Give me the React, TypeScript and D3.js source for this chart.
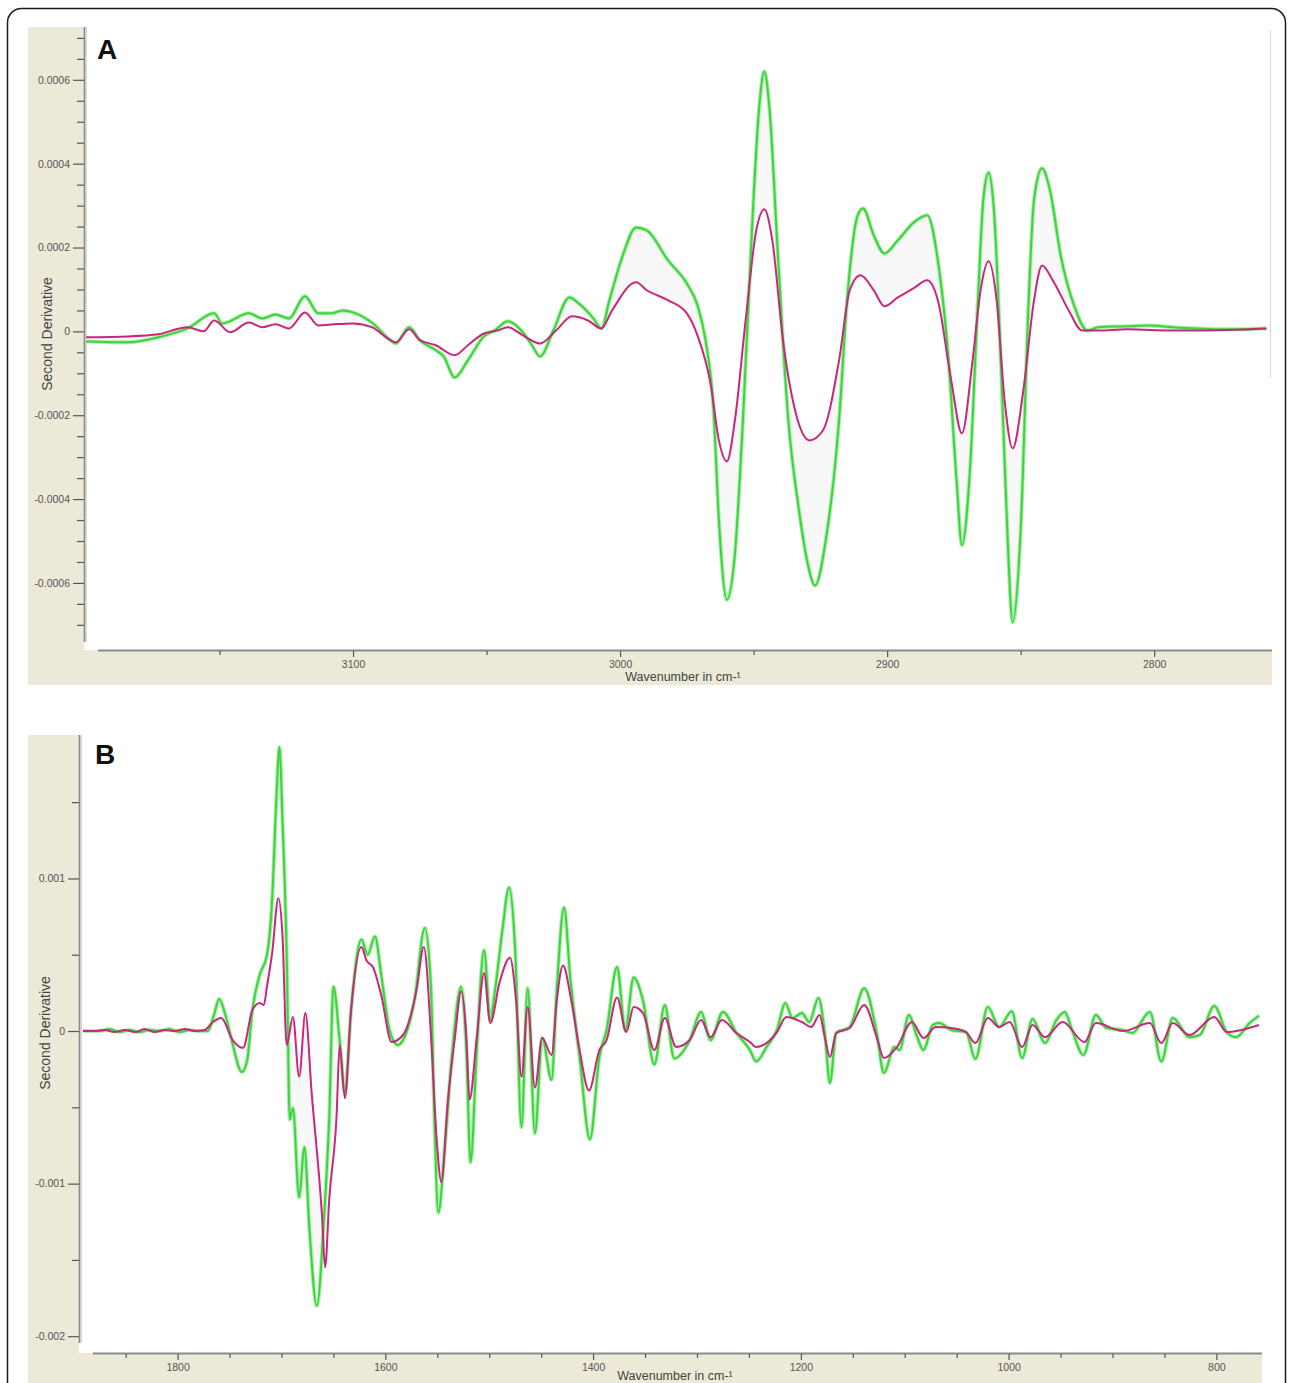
import React, { useEffect, useRef } from 'react';
import * as d3 from 'd3';

type Pt = [number, number]; // [wavenumber, second derivative x 1e-4]

// Panel A, 3200-2757 cm-1
const A_GREEN: Pt[] = [
  [3200, -0.24], [3184, -0.26], [3173, -0.14], [3162, 0.07], [3152, 0.43], [3149, 0.19], [3139, 0.43], [3134, 0.31],
  [3129, 0.4], [3124, 0.31], [3118, 0.84], [3113, 0.43], [3108, 0.43], [3104, 0.5], [3099, 0.43], [3093, 0.21],
  [3086, -0.21], [3084, -0.29], [3079, 0.1], [3075, -0.21], [3069, -0.45], [3066, -0.6], [3062, -1.1], [3057, -0.69],
  [3051, -0.12], [3047, 0.02], [3042, 0.24], [3037, 0.02], [3033, -0.33], [3030, -0.6], [3025, 0.02], [3019, 0.81],
  [3015, 0.64], [3010, 0.31], [3007, 0.07], [3004, 0.74], [2999, 1.81], [2994, 2.48], [2990, 2.41], [2982, 1.69],
  [2975, 1.14], [2971, 0.62], [2968, -0.21], [2965, -1.88], [2963, -4.5], [2960, -6.4], [2957, -5.3], [2954, -2.12],
  [2951, 1.93], [2948, 5.27], [2946, 6.2], [2944, 5.27], [2941, 1.93], [2937, -2.12], [2933, -4.27], [2930, -5.46],
  [2927, -6.06], [2923, -4.99], [2918, -2.12], [2915, 0.74], [2911, 2.77], [2909, 2.93], [2905, 2.29], [2901, 1.86],
  [2896, 2.17], [2890, 2.6], [2885, 2.77], [2881, 1.69], [2877, -0.69], [2874, -3.55], [2872, -5.1], [2869, -3.32],
  [2866, 0.74], [2864, 3.13], [2862, 3.79], [2860, 2.89], [2857, -1.41], [2855, -4.75], [2853, -6.94], [2850, -4.75],
  [2847, 0.74], [2845, 3.13], [2842, 3.89], [2839, 3.36], [2835, 1.81], [2830, 0.62], [2825, 0.02], [2821, 0.1],
  [2810, 0.12], [2802, 0.14], [2793, 0.1], [2784, 0.07], [2769, 0.05], [2758, 0.07],
];

const A_PINK: Pt[] = [
  [3200, -0.14], [3184, -0.12], [3173, -0.07], [3162, 0.1], [3156, 0], [3152, 0.26], [3146, -0.02], [3139, 0.21],
  [3134, 0.1], [3129, 0.17], [3124, 0.07], [3118, 0.45], [3113, 0.14], [3107, 0.17], [3100, 0.19], [3093, 0.1],
  [3086, -0.21], [3084, -0.26], [3079, 0.05], [3075, -0.21], [3069, -0.33], [3062, -0.57], [3057, -0.33], [3051, -0.05],
  [3046, 0.02], [3042, 0.1], [3037, -0.07], [3030, -0.29], [3024, 0.02], [3018, 0.36], [3012, 0.26], [3007, 0.07],
  [3003, 0.5], [2994, 1.17], [2990, 0.98], [2982, 0.74], [2975, 0.43], [2971, -0.1], [2966, -1.29], [2963, -2.6],
  [2960, -3.1], [2957, -2.12], [2953, 0.26], [2949, 2.41], [2946, 2.91], [2943, 2.17], [2939, -0.21], [2934, -2.0],
  [2929, -2.6], [2924, -2.36], [2918, -0.69], [2914, 0.98], [2910, 1.34], [2905, 0.98], [2901, 0.6], [2896, 0.81],
  [2890, 1.03], [2885, 1.22], [2881, 0.74], [2876, -1.17], [2872, -2.43], [2868, -0.69], [2865, 0.98], [2862, 1.67],
  [2859, 0.74], [2856, -1.65], [2853, -2.79], [2849, -1.41], [2845, 0.74], [2842, 1.57], [2838, 1.22], [2832, 0.5],
  [2827, 0.02], [2821, 0.02], [2810, 0.05], [2793, 0.02], [2784, 0.02], [2758, 0.07],
];

// Panel B, 1893-758 cm-1
const B_GREEN: Pt[] = [
  [1891, 0], [1875, 0], [1865, 0.13], [1856, -0.07], [1846, 0.07], [1837, -0.07], [1827, 0.07], [1817, 0],
  [1808, 0.13], [1798, -0.07], [1788, 0.07], [1779, 0], [1771, 0], [1765, 1.05], [1760, 2.1], [1754, 1.05],
  [1748, -0.59], [1738, -2.69], [1733, -1.9], [1728, 1.38], [1721, 3.67], [1714, 4.98], [1709, 8.6], [1705, 15.1],
  [1702, 18.6], [1699, 13.8], [1695, 5.1], [1692, -5.8], [1689, -5.05], [1683, -10.9], [1678, -7.6], [1673, -13.1],
  [1666, -18.0], [1659, -12.2], [1654, -5.6], [1650, 2.9], [1644, -0.6], [1639, -4.0], [1633, 1.38], [1623, 6.0],
  [1617, 5.0], [1610, 6.2], [1604, 3.7], [1596, 0.07], [1588, -0.92], [1582, -0.46], [1572, 2.0], [1562, 6.75],
  [1556, 2.7], [1553, -5.2], [1549, -11.9], [1543, -7.8], [1536, -1.7], [1527, 2.9], [1522, -1.25], [1518, -8.6],
  [1512, -1.25], [1505, 5.3], [1499, 0.72], [1495, 2.36], [1487, 6.8], [1481, 9.4], [1475, 5.3], [1469, -6.3],
  [1463, 2.8], [1456, -6.7], [1449, -0.46], [1440, -3.2], [1435, 2.7], [1428, 8.1], [1422, 3.5], [1413, -1.7],
  [1403, -7.1], [1394, -1.7], [1387, 0.07], [1377, 4.2], [1369, 0.07], [1361, 3.5], [1352, 2.0], [1341, -2.2],
  [1331, 1.7], [1322, -1.8], [1307, -0.6], [1296, 1.25], [1287, -0.6], [1275, 1.25], [1262, -0.13], [1249, -1.25],
  [1243, -2.0], [1233, -1.05], [1223, 0.07], [1215, 1.84], [1208, 0.85], [1199, 1.18], [1192, 0.59], [1183, 2.16],
  [1177, -0.13], [1172, -3.4], [1166, -0.13], [1153, 0.26], [1139, 2.8], [1127, -0.13], [1120, -2.75], [1110, -1.05],
  [1105, -1.25], [1096, 1.05], [1088, -0.4], [1082, -1.25], [1073, 0.4], [1067, 0.52], [1055, 0.07], [1041, -0.07],
  [1032, -1.84], [1020, 1.57], [1009, 0.26], [997, 1.3], [987, -1.77], [977, 0.79], [965, -0.79], [954, 0.72],
  [946, 1.25], [939, 0.07], [928, -1.57], [916, 1.05], [906, 0.2], [890, 0.07], [881, -0.13], [864, 1.25],
  [853, -2.0], [842, 0.85], [826, -0.4], [816, -0.26], [802, 1.64], [790, -0.07], [781, -0.4], [768, 0.52], [759, 1.0],
];

const B_PINK: Pt[] = [
  [1891, 0], [1880, 0], [1870, 0.07], [1861, -0.07], [1851, 0.07], [1841, -0.07], [1832, 0.13], [1822, -0.07],
  [1813, 0.07], [1803, 0], [1793, 0.13], [1784, 0], [1774, 0.07], [1766, 0.59], [1758, 0.85], [1747, -0.59],
  [1737, -1.1], [1728, 1.38], [1721, 1.84], [1717, 1.7], [1714, 2.9], [1709, 5.1], [1703, 8.7], [1699, 6.2],
  [1695, -0.92], [1689, 0.92], [1683, -3.0], [1677, 1.18], [1671, -4.0], [1661, -12.1], [1658, -15.5], [1654, -11.0],
  [1647, -5.6], [1644, -0.92], [1639, -4.4], [1633, 1.38], [1623, 5.5], [1618, 4.6], [1612, 4.2], [1604, 2.36],
  [1594, -0.72], [1583, -0.26], [1570, 2.7], [1563, 5.5], [1556, -0.4], [1551, -6.7], [1546, -9.9], [1540, -4.7],
  [1533, -0.4], [1527, 2.6], [1522, -0.4], [1519, -4.5], [1512, -0.4], [1505, 3.8], [1499, 0.52], [1490, 3.2],
  [1480, 4.8], [1474, 1.84], [1469, -3.0], [1463, 1.57], [1456, -3.7], [1449, -0.46], [1440, -1.57], [1435, 2.0],
  [1429, 4.3], [1421, 2.0], [1413, -1.25], [1404, -3.9], [1394, -1.25], [1387, -0.59], [1377, 2.2], [1368, -0.07],
  [1361, 1.57], [1352, 1.18], [1341, -1.25], [1331, 0.85], [1320, -1.05], [1307, -0.59], [1296, 0.72], [1287, -0.4],
  [1276, 0.72], [1262, -0.13], [1249, -0.72], [1243, -1.05], [1223, -0.07], [1214, 0.92], [1199, 0.59], [1190, 0.26],
  [1182, 1.05], [1177, -0.4], [1172, -1.7], [1166, -0.13], [1153, 0.2], [1139, 1.7], [1127, -0.4], [1120, -1.77],
  [1108, -1.1], [1093, 0.59], [1082, -0.46], [1070, 0.26], [1055, 0.2], [1041, -0.07], [1032, -0.79], [1020, 0.85],
  [1009, 0.26], [999, 0.59], [987, -1.05], [977, 0.4], [965, -0.4], [948, 0.59], [927, -0.72], [916, 0.52],
  [890, 0], [864, 0.52], [853, -0.79], [842, 0.52], [826, -0.26], [802, 0.92], [790, -0.07], [781, 0], [759, 0.4],
];

const A_X_MAJOR = [3100, 3000, 2900, 2800];
const A_X_MINOR = [3150, 3050, 2950, 2850];
const A_Y_MAJOR = [-0.0006, -0.0004, -0.0002, 0, 0.0002, 0.0004, 0.0006];
const A_Y_MINOR = [
  -0.0007, -0.00065, -0.00055, -0.0005, -0.00045, -0.00035, -0.0003, -0.00025, -0.00015, -0.0001, -0.00005,
  0.00005, 0.0001, 0.00015, 0.00025, 0.0003, 0.00035, 0.00045, 0.0005, 0.00055, 0.00065, 0.0007,
];
const B_X_MAJOR = [1800, 1600, 1400, 1200, 1000, 800];
const B_X_MINOR = [1850, 1750, 1700, 1650, 1550, 1500, 1450, 1350, 1300, 1250, 1150, 1100, 1050, 950, 900, 850];
const B_Y_MAJOR = [-0.002, -0.001, 0, 0.001];
const B_Y_MINOR = [-0.0015, -0.0005, 0.0005, 0.0015];

const BEIGE = '#ece9d8';
const GREEN = '#3fd33f';
const PINK = '#c8277c';
const FONT = '"Liberation Sans", Arial, sans-serif';

interface PanelCfg {
  id: string;
  letter: string;
  letterX: number;
  letterY: number;
  top: number;
  bottom: number;
  stripRight: number;
  bgRight: number;
  plotLeft: number;
  plotRight: number;
  axisTop: number;
  axisBottom: number;
  yAxisEnd: number;
  xAxisStart: number;
  xDomain: [number, number];
  yDomain: [number, number];
  xMajor: number[];
  xMinor: number[];
  yMajor: number[];
  yMinor: number[];
  decimals: number;
  titleX: number;
  titleY: number;
  xTitleX: number;
  xTitleY: number;
  green: Pt[];
  pink: Pt[];
}

const PANELS: PanelCfg[] = [
  {
    id: 'a', letter: 'A', letterX: 97, letterY: 59,
    top: 27, bottom: 685, stripRight: 84, bgRight: 1272,
    plotLeft: 86, plotRight: 1269, axisTop: 27, axisBottom: 650, yAxisEnd: 642, xAxisStart: 98,
    xDomain: [3200, 2757], yDomain: [0.000726, -0.00076],
    xMajor: A_X_MAJOR, xMinor: A_X_MINOR, yMajor: A_Y_MAJOR, yMinor: A_Y_MINOR, decimals: 4,
    titleX: 48, titleY: 334, xTitleX: 683, xTitleY: 681,
    green: A_GREEN, pink: A_PINK,
  },
  {
    id: 'b', letter: 'B', letterX: 95, letterY: 764,
    top: 735, bottom: 1383, stripRight: 79, bgRight: 1262,
    plotLeft: 81, plotRight: 1260, axisTop: 735, axisBottom: 1353, yAxisEnd: 1343, xAxisStart: 93,
    xDomain: [1893, 758], yDomain: [0.00194, -0.00211],
    xMajor: B_X_MAJOR, xMinor: B_X_MINOR, yMajor: B_Y_MAJOR, yMinor: B_Y_MINOR, decimals: 3,
    titleX: 46, titleY: 1033, xTitleX: 675, xTitleY: 1380,
    green: B_GREEN, pink: B_PINK,
  },
];

function drawPanel(svg: d3.Selection<SVGSVGElement, unknown, null, undefined>, p: PanelCfg) {
  const g = svg.append('g');
  const x = d3.scaleLinear().domain(p.xDomain).range([p.plotLeft, p.plotRight]);
  const y = d3.scaleLinear().domain(p.yDomain).range([p.axisTop, p.axisBottom]);

  // beige strips left and below the plot
  g.append('rect').attr('x', 28).attr('y', p.top).attr('width', p.stripRight - 28)
    .attr('height', p.bottom - p.top).attr('fill', BEIGE);
  g.append('rect').attr('x', 28).attr('y', p.axisBottom).attr('width', p.bgRight - 28)
    .attr('height', p.bottom - p.axisBottom).attr('fill', BEIGE);

  // axis lines
  g.append('line').attr('x1', p.stripRight + 0.5).attr('x2', p.stripRight + 0.5)
    .attr('y1', p.top).attr('y2', p.yAxisEnd).attr('stroke', '#8a8a86').attr('stroke-width', 1.6);
  g.append('line').attr('x1', p.stripRight + 2).attr('x2', p.stripRight + 2)
    .attr('y1', p.top).attr('y2', p.yAxisEnd).attr('stroke', '#c9c9c4').attr('stroke-width', 1.4);
  g.append('line').attr('x1', p.xAxisStart).attr('x2', p.bgRight)
    .attr('y1', p.axisBottom + 0.5).attr('y2', p.axisBottom + 0.5).attr('stroke', '#8a8a86').attr('stroke-width', 2);

  const fmt = (d: d3.NumberValue) => (+d === 0 ? '0' : (+d).toFixed(p.decimals));
  const styleAxis = (sel: d3.Selection<SVGGElement, unknown, null, undefined>) => {
    sel.select('.domain').remove();
    sel.selectAll('.tick line').attr('stroke', '#555').attr('stroke-width', 1.2);
    sel.selectAll('.tick text').attr('fill', '#555').style('font-family', FONT).style('font-size', '10.5px');
  };

  g.append('g').attr('transform', `translate(${p.stripRight},0)`)
    .call(d3.axisLeft(y).tickValues(p.yMajor).tickSize(11).tickPadding(3).tickFormat(fmt))
    .call(styleAxis);
  g.append('g').attr('transform', `translate(${p.stripRight},0)`)
    .call(d3.axisLeft(y).tickValues(p.yMinor).tickSize(7).tickFormat(() => ''))
    .call(styleAxis);
  g.append('g').attr('transform', `translate(0,${p.axisBottom + 1})`)
    .call(d3.axisBottom(x).tickValues(p.xMajor).tickSize(6).tickPadding(4).tickFormat((d) => String(d)))
    .call(styleAxis);
  g.append('g').attr('transform', `translate(0,${p.axisBottom + 1})`)
    .call(d3.axisBottom(x).tickValues(p.xMinor).tickSize(4).tickFormat(() => ''))
    .call(styleAxis);

  g.append('text')
    .attr('transform', `translate(${p.titleX},${p.titleY}) rotate(-90)`)
    .attr('text-anchor', 'middle').attr('dominant-baseline', 'middle')
    .style('font-family', FONT).style('font-size', '14px').attr('fill', '#444')
    .text('Second Derivative');

  g.append('text').attr('x', p.xTitleX).attr('y', p.xTitleY).attr('text-anchor', 'middle')
    .style('font-family', FONT).style('font-size', '12.5px').attr('fill', '#444')
    .text('Wavenumber in cm-¹');

  // data
  const clipId = `clip-${p.id}`;
  g.append('clipPath').attr('id', clipId).append('rect')
    .attr('x', p.stripRight + 2).attr('y', p.top).attr('width', p.bgRight - p.stripRight)
    .attr('height', p.axisBottom - p.top - 1);
  const data = g.append('g').attr('clip-path', `url(#${clipId})`);

  // faint shading between the two spectra
  const pinkAt = d3.scaleLinear().domain(p.pink.map((d) => d[0])).range(p.pink.map((d) => d[1])).clamp(true);
  const area = d3.area<Pt>()
    .x((d) => x(d[0]))
    .y0((d) => y(pinkAt(d[0]) * 1e-4))
    .y1((d) => y(d[1] * 1e-4))
    .curve(d3.curveMonotoneX);
  data.append('path').datum(p.green).attr('d', area).attr('fill', '#f5f5f5').attr('opacity', 0.7);

  const line = d3.line<Pt>().x((d) => x(d[0])).y((d) => y(d[1] * 1e-4)).curve(d3.curveMonotoneX);
  data.append('path').datum(p.green).attr('d', line).attr('fill', 'none')
    .attr('stroke', '#a9eea9').attr('stroke-width', 4).attr('stroke-linejoin', 'round');
  data.append('path').datum(p.green).attr('d', line).attr('fill', 'none')
    .attr('stroke', GREEN).attr('stroke-width', 2).attr('stroke-linejoin', 'round');
  data.append('path').datum(p.pink).attr('d', line).attr('fill', 'none')
    .attr('stroke', PINK).attr('stroke-width', 2).attr('stroke-linejoin', 'round');

  g.append('text').attr('x', p.letterX).attr('y', p.letterY)
    .style('font-family', FONT).style('font-size', '28px').style('font-weight', 'bold')
    .attr('fill', '#111').text(p.letter);
}

export default function App() {
  const svgRef = useRef<SVGSVGElement>(null);

  useEffect(() => {
    if (!svgRef.current) return;
    const svg = d3.select(svgRef.current);
    svg.selectAll('*').remove();

    svg.append('rect').attr('width', 1289).attr('height', 1383).attr('fill', '#fff');
    PANELS.forEach((p) => drawPanel(svg, p));

    // faint right rule of panel A
    svg.append('line').attr('x1', 1270.5).attr('x2', 1270.5).attr('y1', 30).attr('y2', 378)
      .attr('stroke', '#d6d6d6').attr('stroke-width', 1);

    // outer frame
    svg.append('rect').attr('x', 7.5).attr('y', 8.5).attr('width', 1278).attr('height', 1420)
      .attr('rx', 14).attr('fill', 'none').attr('stroke', '#1a1a1a').attr('stroke-width', 1.5);
  }, []);

  return (
    <div style={{ position: 'absolute', left: 0, top: 0 }}>
      <svg ref={svgRef} width={1289} height={1383} style={{ display: 'block' }} />
    </div>
  );
}
